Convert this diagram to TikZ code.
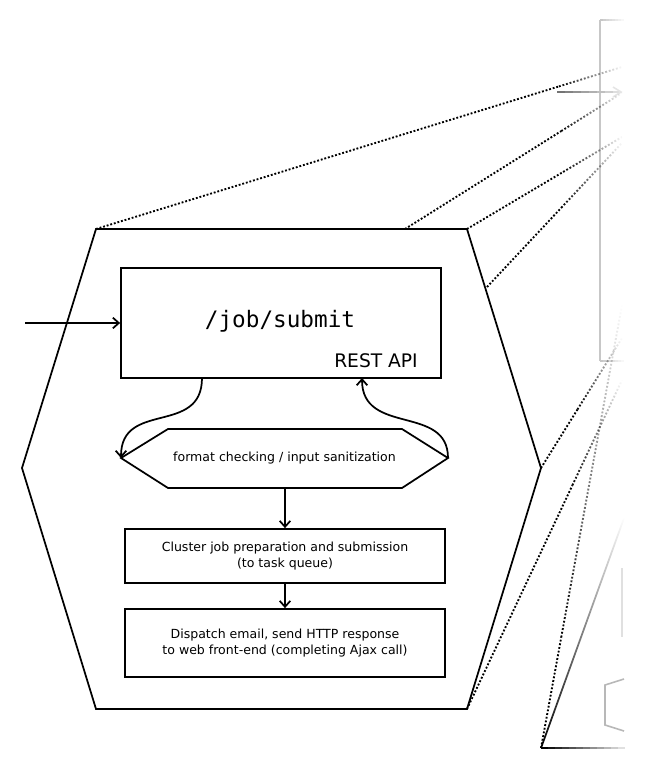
\documentclass[tikz,border=0pt]{standalone}
\usepackage{fontspec}
\setmainfont{DejaVu Sans}
\newfontfamily\monof{DejaVu Sans Mono}
\usetikzlibrary{arrows.meta,fadings,calc}
\tikzfading[name=fadeE, left color=transparent!0, right color=transparent!100]
\tikzfading[name=fadeN, bottom color=transparent!0, top color=transparent!100]
\tikzset{
  lw/.style={line width=1.3pt},
  box/.style={draw, lw, rectangle, minimum width=240pt, align=center, font=\fontsize{9.4}{11.6}\selectfont},
  dots/.style={line width=1.4pt, dash pattern=on 1.4pt off 1.4pt},
  arr/.style={lw, -{Straight Barb[length=4.5pt,width=8pt]}},
  ghost/.style={draw=black!22, line width=1.3pt},
}
\begin{document}
\begin{tikzpicture}[x=0.75pt,y=-0.75pt]
\useasboundingbox (0,0) rectangle (654,770);
% outer hexagon
\coordinate (hTL) at (96,229);
\coordinate (hTR) at (467,229);
\coordinate (hR) at (541,468);
\coordinate (hBR) at (467,709);
\coordinate (hBL) at (96,709);
\coordinate (hL) at (22,468);
\draw[lw, line join=miter] (hTL) -- (hTR) -- (hR) -- (hBR) -- (hBL) -- (hL) -- cycle;
% REST box
\node[box, minimum height=82.5pt] (rest) at (281,323) {};
\node[font=\monof\fontsize{17}{20}\selectfont] (path) at (280,321) {/job/submit};
\node[font=\fontsize{14}{16}\selectfont, anchor=base] (api) at (376,367) {REST API};
\coordinate (in) at (25,323);
\draw[arr] (in) -- (rest.west);
% format checking
\coordinate (fcL) at (121,458);
\coordinate (fcR) at (448,458);
\draw[lw] (fcL) -- (168,429) -- (402,429) -- (fcR) -- (402,488) -- (168,488) -- cycle;
\node[font=\fontsize{9.4}{11.6}\selectfont] (fc) at (284.5,458) {format checking / input sanitization};
\coordinate (fcB) at (285,488);
\coordinate (rOut) at (202,378);
\coordinate (rIn) at (362,378);
\draw[arr] (rOut) .. controls (202,436) and (121,400) .. (fcL);
\draw[arr] (fcR) .. controls (448,404) and (362,436) .. (rIn);
% boxes
\node[box, minimum height=40.5pt] (prep) at (285,556) {Cluster job preparation and submission\\(to task queue)};
\node[box, minimum height=51pt] (disp) at (285,643) {Dispatch email, send HTTP response\\to web front-end (completing Ajax call)};
\draw[arr] (fcB) -- (prep.north);
\draw[arr] (prep.south) -- (disp.north);
% faded background elements on the right
\coordinate (gA) at (600,20);
\coordinate (gB) at (600,361);
\draw[ghost] (gA) -- (gB);
\foreach \k in {0,...,7}{
  \pgfmathsetmacro{\cc}{22-2.7*\k}
  \draw[black!\cc, line width=1.3pt] (600+3*\k,20) -- (603+3*\k,20);
  \draw[black!\cc, line width=1.3pt] (600+3*\k,361) -- (603+3*\k,361);
}
\foreach \k in {0,...,7}{
  \pgfmathsetmacro{\cc}{55-6*\k}
  \draw[black!\cc, line width=1.3pt] (557+8*\k,92) -- (565+8*\k,92);
}
\draw[line width=1.2pt, black!10] (613,87) -- (621,92) -- (613,97);
\draw[black!12, line width=1pt] (622,568) -- (622,637);
\draw[black!28, line width=1.2pt] (624,679) -- (605,685) -- (605,725) -- (624,731);
% trapezoid corner lines
\coordinate (tC) at (541,748);
\draw[lw, path fading=fadeN] (tC) -- (624,518);
\foreach \k in {0,...,11}{
  \pgfmathsetmacro{\cc}{100-8*\k}
  \draw[black!\cc, lw] (541+7*\k,748) -- (548+7*\k,748);
}
% dotted projection lines (top)
\foreach \s/\e/\t [count=\i] in {hTL/{622,67}/0.88, {405,229}/{622,93}/0.72, hTR/{622,137}/0.62, {487,287}/{622,143}/0.55}{
  \coordinate (ds\i) at (\s);
  \coordinate (de\i) at (\e);
  \coordinate (dm\i) at ($(ds\i)!\t!(de\i)$);
  \draw[dots] (ds\i) -- (dm\i);
  \draw[dots, path fading=fadeE] (dm\i) -- (de\i);
}
% dotted projection lines (bottom)
\coordinate (bA) at (622,338);
\coordinate (bAm) at ($(hR)!0.45!(bA)$);
\draw[dots] (hR) -- (bAm);
\draw[dots, path fading=fadeN] (bAm) -- (bA);
\coordinate (bB) at (622,380);
\coordinate (bBm) at ($(hBR)!0.68!(bB)$);
\draw[dots] (hBR) -- (bBm);
\draw[dots, path fading=fadeN] (bBm) -- (bB);
\coordinate (bC) at (622,305);
\coordinate (bCm) at ($(tC)!0.25!(bC)$);
\draw[dots] (tC) -- (bCm);
\draw[dots, path fading=fadeN] (bCm) -- (bC);
\end{tikzpicture}
\end{document}
